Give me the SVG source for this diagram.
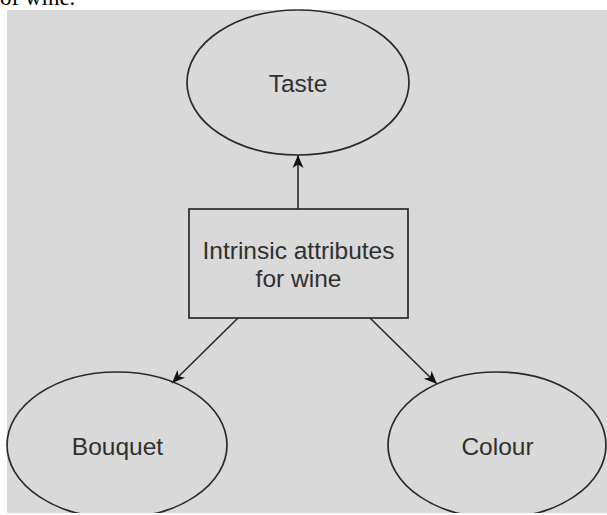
<svg xmlns="http://www.w3.org/2000/svg" width="607" height="515" viewBox="0 0 607 515">
  <style>
    .shape { fill: none; stroke: #2a2a2a; stroke-width: 1.7; }
    .label { font-family: "Liberation Sans", Arial, sans-serif; font-size: 24.5px; fill: #303030; text-anchor: middle; }
    .edge { stroke: #2a2a2a; stroke-width: 1.6; fill: none; marker-end: url(#arrow); }
  </style>
  <defs>
    <marker id="arrow" markerWidth="14" markerHeight="14" viewBox="0 0 14 14" refX="13" refY="7" orient="auto" markerUnits="userSpaceOnUse">
      <path d="M0,1.5 L13,7 L0,12.5 L3.5,7 Z" fill="#111111"/>
    </marker>
  </defs>

  <!-- page -->
  <rect x="0" y="0" width="607" height="515" fill="#ffffff"/>
  <text x="0" y="5" font-family="Liberation Serif, 'Times New Roman', serif" font-size="23" fill="#000000">of wine.</text>

  <!-- diagram canvas -->
  <rect x="7" y="10" width="600" height="503" fill="#d9d9d9"/>

  <g id="connectors">
    <line class="edge" x1="298" y1="209" x2="298" y2="155"/>
    <line class="edge" x1="238" y1="318" x2="172" y2="383"/>
    <line class="edge" x1="370" y1="318" x2="437" y2="384"/>
  </g>

  <g id="taste">
    <ellipse class="shape" cx="298" cy="82.5" rx="111" ry="72.5"/>
    <text class="label" x="298" y="92">Taste</text>
  </g>

  <g id="intrinsic">
    <rect class="shape" x="189" y="209" width="219" height="109"/>
    <text class="label" x="298.5" y="259">Intrinsic attributes</text>
    <text class="label" x="298.5" y="287">for wine</text>
  </g>

  <g id="bouquet">
    <ellipse class="shape" cx="117" cy="445" rx="110" ry="73"/>
    <text class="label" x="117.5" y="455">Bouquet</text>
  </g>

  <g id="colour">
    <ellipse class="shape" cx="497" cy="445" rx="109" ry="73"/>
    <text class="label" x="497.5" y="455">Colour</text>
  </g>

  <!-- white margin below the canvas -->
  <rect x="0" y="513" width="607" height="2" fill="#ffffff"/>
</svg>
